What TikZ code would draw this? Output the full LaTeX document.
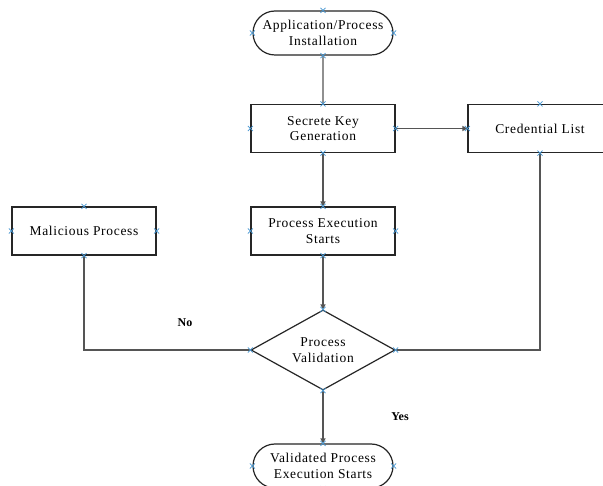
\documentclass[tikz,border=0pt]{standalone}
\usepackage{fontspec}
\setmainfont{Liberation Serif}
\newfontfamily\boxfont[LetterSpace=5]{Liberation Serif}
\usetikzlibrary{shapes.geometric,shapes.misc,arrows.meta}
\definecolor{xblue}{RGB}{70,150,210}
\definecolor{linegray}{RGB}{85,85,85}
\tikzset{
  box/.style={draw=black!85, line width=1.2pt, minimum width=144pt, minimum height=48pt,
    inner sep=2pt, align=center, font=\boxfont\fontsize{13.5}{15.5}\selectfont},
  term/.style={box, rounded rectangle, minimum width=144pt, minimum height=44pt},
  dec/.style={box, diamond, minimum width=144pt, minimum height=80pt, aspect=1.8},
  conn/.style={draw=linegray, line width=1.3pt},
  arr/.style={conn, -{Triangle[length=5pt,width=5pt]}},
  lbl/.style={font=\bfseries\fontsize{12}{13}\selectfont},
  xmark/.style={draw=xblue, line width=0.8pt}
}
\begin{document}
\begin{tikzpicture}[x=1pt,y=-1pt]
\useasboundingbox (0,0) rectangle (603,486);
\clip (0,0) rectangle (603,486);
\fill[white] (0,0) rectangle (603,486);

\node[term] (top) at (323,33) {Application/Process\\Installation};
\node[box]  (key) at (323,128.5) {Secrete Key\\Generation};
\node[box]  (cred) at (540,128.5) {Credential List};
\node[box]  (mal) at (84,231) {Malicious Process};
\node[box]  (exe) at (323,231) {Process Execution\\Starts};
\node[dec]  (val) at (323,350) {Process\\Validation};
\node[term] (fin) at (323,466) {Validated Process\\Execution Starts};

\draw[conn] (top) -- (key);
\draw[arr] (key) -- (cred);
\draw[arr] (key) -- (exe);
\draw[arr] (exe) -- (val);
\draw[conn] (val.west) -| (mal.south);
\draw[conn] (cred.south) |- (val.east);
\draw[arr] (val) -- (fin);

\node[lbl] (no) at (185,323) {No};
\node[lbl] (yes) at (400,417) {Yes};

\foreach \n in {top,key,cred,mal,exe,val,fin}
  \foreach \a in {north,south,east,west}
    \draw[xmark] (\n.\a) +(-2.5,-2.5) -- +(2.5,2.5) +(-2.5,2.5) -- +(2.5,-2.5);
\end{tikzpicture}
\end{document}
